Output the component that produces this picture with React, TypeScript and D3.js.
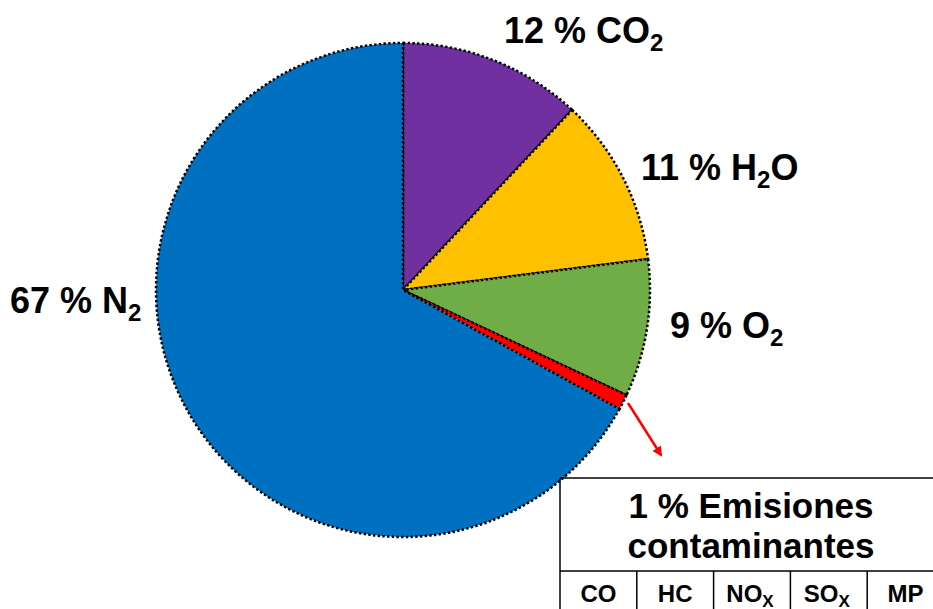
import React from "react";
import * as d3 from "d3";

const categories = ["CO2", "H2O", "O2", "Emisiones", "N2"];
const values = [12, 11, 9, 1, 67];
const colors = ["#7030A0", "#FFC000", "#70AD47", "#FF0000", "#0070C0"];
// label parts: [main text, subscript, trailing]
const labelParts: [string, string, string][] = [
  ["12 % CO", "2", ""],
  ["11 % H", "2", "O"],
  ["9 % O", "2", ""],
  ["", "", ""],
  ["67 % N", "2", ""],
];
const tableTitle = ["1 % Emisiones", "contaminantes"];
const tableCells: [string, string][] = [
  ["CO", ""],
  ["HC", ""],
  ["NO", "X"],
  ["SO", "X"],
  ["MP", ""],
];

// layout (not data)
const W = 933, H = 609;
const CX = 403, CY = 290, R = 247;
const labelPos = [
  [504, 43],
  [641, 180],
  [670, 338],
  [0, 0],
  [10, 313],
];
const FONT = "Arial, 'Liberation Sans', sans-serif";

function Label({ x, y, parts, fs, sub, shift, anchor = "start" }: any) {
  return (
    <text
      x={x}
      y={y}
      fontFamily={FONT}
      fontWeight="bold"
      fontSize={fs}
      textAnchor={anchor}
      fill="#000"
    >
      <tspan>{parts[0]}</tspan>
      {parts[1] ? (
        <tspan fontSize={sub} dy={shift}>
          {parts[1]}
        </tspan>
      ) : null}
      {parts[2] ? <tspan dy={-shift}>{parts[2]}</tspan> : null}
    </text>
  );
}

export default function App() {
  const pie = d3
    .pie<number>()
    .sort(null)
    .value((d) => d)(values);
  const arc = d3.arc<d3.PieArcDatum<number>>().innerRadius(0).outerRadius(R);

  const tx0 = 560, tx1 = 944, ty0 = 478, ty1 = 571;
  const colScale = d3
    .scaleBand<number>()
    .domain(d3.range(tableCells.length))
    .range([tx0, tx1]);

  return (
    <svg
      width={W}
      height={H}
      style={{ position: "absolute", left: 0, top: 0, background: "#fff" }}
    >
      <defs>
        <marker
          id="arr"
          viewBox="0 0 10 10"
          refX="8"
          refY="5"
          markerWidth="4"
          markerHeight="4"
          orient="auto"
        >
          <path d="M0,0 L10,5 L0,10 z" fill="#FF0000" />
        </marker>
      </defs>
      <g transform={`translate(${CX},${CY})`}>
        {pie.map((d, i) => (
          <path
            key={categories[i]}
            d={arc(d) || ""}
            fill={colors[i]}
            stroke="#000"
            strokeWidth={2.5}
            strokeDasharray="2.4 2.3"
          />
        ))}
      </g>
      {pie.map((d, i) =>
        labelParts[i][0] ? (
          <Label
            key={"l" + i}
            x={labelPos[i][0]}
            y={labelPos[i][1]}
            parts={labelParts[i]}
            fs={36}
            sub={24}
            shift={8}
          />
        ) : null
      )}
      <line
        x1={628}
        y1={403}
        x2={661}
        y2={455}
        stroke="#FF0000"
        strokeWidth={2.5}
        markerEnd="url(#arr)"
      />
      {/* table */}
      <g stroke="#000" strokeWidth={1.5} fill="none">
        <line x1={tx0} y1={ty0} x2={tx1} y2={ty0} />
        <line x1={tx0} y1={ty0} x2={tx0} y2={H + 5} />
        <line x1={tx0} y1={ty1} x2={tx1} y2={ty1} />
        {tableCells.slice(1).map((_, i) => (
          <line
            key={"v" + i}
            x1={colScale(i + 1)!}
            y1={ty1}
            x2={colScale(i + 1)!}
            y2={H + 5}
          />
        ))}
      </g>
      <Label x={(tx0 + tx1) / 2 - 1} y={518} parts={[tableTitle[0], "", ""]} fs={35} anchor="middle" />
      <Label x={(tx0 + tx1) / 2 - 1} y={558} parts={[tableTitle[1], "", ""]} fs={35} anchor="middle" />
      {tableCells.map((c, i) => (
        <Label
          key={"c" + i}
          x={colScale(i)! + colScale.bandwidth() / 2 - (c[1] ? 2 : 0)}
          y={602}
          parts={[c[0], c[1], ""]}
          fs={24}
          sub={17}
          shift={5}
          anchor="middle"
        />
      ))}
    </svg>
  );
}
